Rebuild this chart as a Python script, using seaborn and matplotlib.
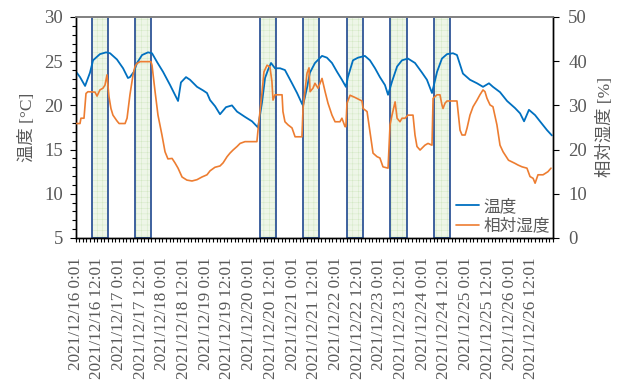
import numpy as np
import pandas as pd
import matplotlib
matplotlib.use("Agg")
import matplotlib.pyplot as plt
import seaborn as sns
from matplotlib.ticker import MultipleLocator, FixedLocator, FixedFormatter
from matplotlib.lines import Line2D

# ---------------- data (hours since 2021/12/16 0:01) ----------------
temp_hours = [0.0, 2.5, 5.3, 8.0, 9.7, 13.5, 16.9, 19.1, 22.9, 26.3, 29.0, 30.1, 32.3, 34.0,
              36.8, 40.1, 42.3, 45.1, 48.4, 52.3, 56.7, 58.3, 61.1, 63.3, 67.2, 70.5, 72.7,
              74.4, 77.2, 79.9, 83.2, 86.5, 89.3, 93.7, 97.6, 100.9, 103.1, 104.8, 106.4,
              108.1, 110.3, 113.1, 115.8, 119.7, 122.5, 125.2, 125.8, 128.0, 129.6, 132.4,
              136.3, 139.0, 141.8, 144.6, 147.3, 149.5, 150.6, 153.4, 156.2, 160.0, 162.8,
              165.6, 168.3, 171.1, 172.8, 175.0, 177.8, 180.5, 183.8, 187.7, 191.6, 194.3,
              197.1, 199.9, 202.6, 205.4, 208.7, 210.9, 214.2, 218.1, 222.0, 225.3, 228.6,
              230.8, 234.7, 238.6, 243.0, 245.8, 248.0, 250.7, 254.1, 256.8, 260.7, 263.4]
temp_values = [23.9, 23.2, 22.2, 23.7, 25.1, 25.8, 26.0, 25.9, 25.2, 24.2, 23.1, 23.2, 23.8, 24.8,
               25.7, 26.0, 25.9, 24.9, 23.8, 22.3, 20.5, 22.6, 23.2, 22.9, 22.1, 21.7, 21.4,
               20.6, 19.9, 19.0, 19.8, 20.0, 19.3, 18.7, 18.2, 17.5, 20.3, 23.1, 24.0,
               24.8, 24.2, 24.2, 24.0, 22.5, 21.4, 20.2, 20.0, 22.0, 23.7, 24.8,
               25.6, 25.4, 24.8, 23.8, 22.9, 22.1, 23.2, 25.1, 25.4, 25.6, 25.1,
               24.2, 23.2, 22.3, 21.2, 22.7, 24.4, 25.1, 25.3, 24.8, 23.7, 22.9,
               21.4, 23.8, 25.3, 25.8, 25.9, 25.7, 23.6, 22.9, 22.5, 22.1, 22.5,
               22.1, 21.5, 20.5, 19.7, 19.1, 18.2, 19.5, 18.9, 18.2, 17.2, 16.6]

rh_hours = [0.0, 2.5, 3.0, 4.7, 5.8, 6.9, 10.8, 11.9, 13.5, 15.2, 16.3, 17.4, 18.5, 19.6, 20.7,
            22.9, 24.1, 27.4, 28.5, 30.1, 31.8, 32.9, 34.0, 35.7, 41.7, 42.3, 44.0, 45.6,
            47.8, 49.5, 51.1, 53.4, 55.0, 56.7, 58.9, 61.6, 64.4, 67.2, 69.9, 72.7, 74.4,
            77.1, 79.9, 81.6, 83.8, 85.4, 87.1, 89.3, 91.0, 93.7, 100.3, 100.9, 103.1,
            104.2, 105.9, 107.5, 108.6, 109.2, 110.3, 114.2, 114.7, 115.8, 117.5, 119.7,
            121.4, 125.2, 125.8, 128.0, 129.1, 129.7, 131.3, 132.4, 134.1, 136.3, 138.0,
            139.6, 141.8, 143.5, 146.2, 147.3, 149.0, 149.5, 150.1, 151.8, 154.5, 158.4,
            159.0, 161.2, 162.8, 164.5, 166.7, 168.3, 170.0, 172.8, 173.9, 175.0, 176.7,
            177.8, 179.4, 180.5, 182.2, 183.8, 186.6, 187.7, 188.8, 190.5, 193.2, 194.9,
            197.1, 197.7, 199.9, 201.5, 202.6, 203.2, 204.3, 205.4, 210.9, 212.6, 213.7,
            215.4, 216.5, 218.1, 219.8, 222.0, 223.6, 225.3, 226.4, 227.5, 229.2, 230.8,
            233.0, 234.7, 236.4, 239.4, 242.9, 244.7, 246.9, 249.6, 251.3, 253.0, 254.1,
            255.7, 258.5, 261.2, 262.9]
rh_values = [25.9, 25.9, 27.1, 27.1, 32.7, 33.1, 33.0, 32.1, 33.5, 33.9, 34.6, 36.9, 32.0, 29.3, 27.8,
             26.5, 25.9, 25.9, 27.1, 32.4, 36.9, 38.8, 39.5, 39.9, 39.9, 39.1, 33.1, 27.8,
             23.3, 19.5, 17.9, 18.0, 17.0, 15.8, 13.8, 13.1, 12.9, 13.2, 13.8, 14.3, 15.2,
             16.0, 16.3, 17.0, 18.4, 19.2, 19.9, 20.7, 21.4, 21.8, 21.8, 24.4, 32.8,
             37.6, 39.1, 38.7, 35.4, 31.2, 32.4, 32.4, 28.6, 26.3, 25.6, 24.9,
             22.9, 22.9, 29.3, 37.3, 38.5, 33.1, 33.9, 35.0, 33.9, 36.1, 33.1,
             30.5, 27.8, 26.3, 26.3, 27.1, 25.2, 25.2, 30.5, 32.3, 31.8, 31.0,
             29.3, 28.6, 24.1, 19.2, 18.4, 18.1, 16.1, 15.8, 25.6, 27.8, 30.8,
             27.1, 26.3, 27.1, 27.1, 27.8, 27.8, 23.3, 20.7, 19.9, 21.0, 21.4,
             21.0, 31.6, 32.4, 32.4, 30.1, 29.3, 30.5, 31.0, 31.0, 24.4, 23.3,
             23.3, 24.9, 27.8, 29.7, 31.2, 32.4, 33.5, 33.1, 31.6, 30.1, 29.7,
             25.6, 21.0, 19.5, 17.6, 16.9, 16.5, 16.1, 15.8, 13.9, 13.5, 12.4,
             14.3, 14.3, 15.0, 15.8]

work_start = [9.1, 32.9, 102.0, 125.8, 150.1, 173.9, 198.2]
work_end = [18.0, 41.7, 110.9, 134.6, 158.9, 183.3, 207.1]

tick_labels = ['2021/12/16 0:01', '2021/12/16 12:01', '2021/12/17 0:01', '2021/12/17 12:01',
               '2021/12/18 0:01', '2021/12/18 12:01', '2021/12/19 0:01', '2021/12/19 12:01',
               '2021/12/20 0:01', '2021/12/20 12:01', '2021/12/21 0:01', '2021/12/21 12:01',
               '2021/12/22 0:01', '2021/12/22 12:01', '2021/12/23 0:01', '2021/12/23 12:01',
               '2021/12/24 0:01', '2021/12/24 12:01', '2021/12/25 0:01', '2021/12/25 12:01',
               '2021/12/26 0:01', '2021/12/26 12:01']

series_names = ['温度', '相対湿度']
axis_labels = ['温度 [°C]', '相対湿度 [%]']

# ---------------- style ----------------
sns.set_style('ticks')
plt.rcParams['font.family'] = ['Liberation Serif', 'Noto Sans CJK JP']
plt.rcParams['hatch.linewidth'] = 0.35
GRAY = '#595959'
BLUE = '#0070C0'
ORANGE = '#ED7D31'

df_t = pd.DataFrame({'hour': temp_hours, 'value': temp_values})
df_h = pd.DataFrame({'hour': rh_hours, 'value': rh_values})

fig = plt.figure(figsize=(6.28, 3.92), dpi=100)
ax = fig.add_axes([75.5 / 628, 1 - 238 / 392, (553 - 75.5) / 628, (238 - 17) / 392])
ax2 = ax.twinx()

for s, e in zip(work_start, work_end):
    ax.axvspan(s, e, facecolor='#EEF6E8', edgecolor='#D3E8C4', hatch='+++', lw=0, zorder=0)
    ax.axvspan(s, e, fill=False, edgecolor='#2F5597', lw=1.3, zorder=1)

sns.lineplot(data=df_t, x='hour', y='value', ax=ax, color=BLUE, lw=1.3,
             estimator=None, sort=False, legend=False, zorder=3)
sns.lineplot(data=df_h, x='hour', y='value', ax=ax2, color=ORANGE, lw=1.2,
             estimator=None, sort=False, legend=False, zorder=3)

ax.set_xlim(0, 264)
ax.set_ylim(5, 30)
ax2.set_ylim(0, 50)

tick_pos = np.arange(len(tick_labels)) * 12
ax.xaxis.set_major_locator(FixedLocator(tick_pos))
ax.xaxis.set_major_formatter(FixedFormatter(tick_labels))
ax.xaxis.set_minor_locator(MultipleLocator(2))
ax.yaxis.set_major_locator(MultipleLocator(5))
ax.yaxis.set_minor_locator(MultipleLocator(1))
ax2.yaxis.set_major_locator(MultipleLocator(10))

ax.tick_params(axis='x', which='both', direction='out', length=3, width=0.8, color='k',
               labelrotation=90, labelsize=12.3, labelcolor=GRAY, pad=11)
ax.tick_params(axis='y', which='major', direction='out', length=4, width=0.8, color='k',
               labelsize=13.5, labelcolor=GRAY, pad=5)
ax.tick_params(axis='y', which='minor', direction='out', length=3, width=0.8, color='k')
ax2.tick_params(axis='y', which='major', direction='out', length=4, width=0.8, color='k',
                labelsize=13.5, labelcolor=GRAY, pad=7)

ax.set_xlabel('')
ax.set_ylabel(axis_labels[0], fontsize=12.5, color=GRAY, labelpad=6)
ax2.set_ylabel(axis_labels[1], fontsize=12.5, color=GRAY, labelpad=7)

for a in (ax, ax2):
    for side in ('left', 'right', 'bottom'):
        a.spines[side].set_color('k')
        a.spines[side].set_linewidth(1.0)
    a.spines['top'].set_color('#808080')
    a.spines['top'].set_linewidth(1.2)

handles = [Line2D([], [], color=BLUE, lw=1.3), Line2D([], [], color=ORANGE, lw=1.2)]
leg = ax2.legend(handles, series_names, loc='lower right', frameon=False, fontsize=12,
                 handlelength=1.4, handletextpad=0.25, labelspacing=0.2,
                 borderaxespad=0.1, borderpad=0.1)
for t in leg.get_texts():
    t.set_color(GRAY)

fig.savefig('out.png', dpi=100)
